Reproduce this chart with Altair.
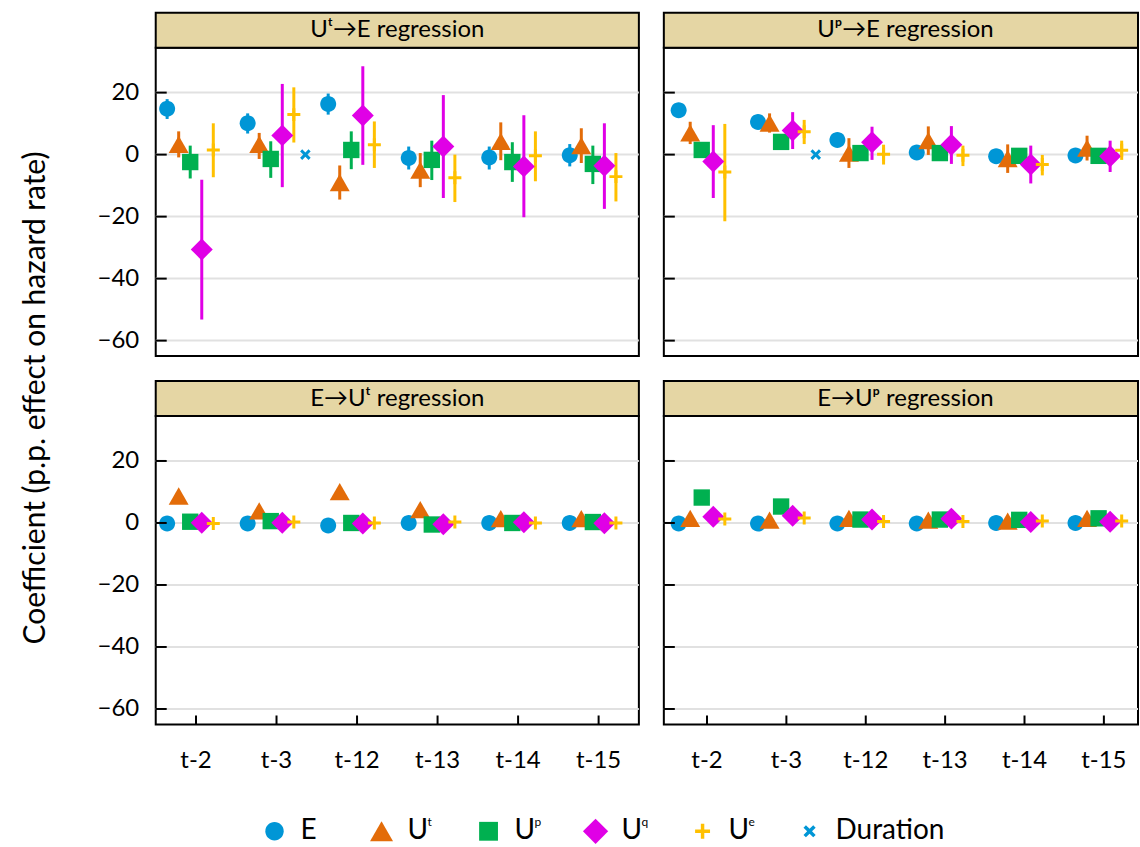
import math
import altair as alt
import pandas as pd

# ---------------- data ----------------
LAGS = ["t-2", "t-3", "t-12", "t-13", "t-14", "t-15"]
SERIES = ["E", "Ut", "Up", "Uq", "Ue", "Duration"]
COLORS = ["#0096D6", "#E36C09", "#00B050", "#E000E6", "#FFC000", "#0096D6"]
LEGEND_MAIN = ["E", "U", "U", "U", "U", "Duration"]
LEGEND_SUP = ["", "t", "p", "q", "e", ""]
PANEL_TITLES = ["Uᵗ→E regression", "Uᵖ→E regression", "E→Uᵗ regression", "E→Uᵖ regression"]
Y_TITLE = "Coefficient (p.p. effect on hazard rate)"
Y_TICKS = [-60, -40, -20, 0, 20]

# Panel 1: U^t -> E
UTE_COEF = {
    "E":  [14.8, 10.1, 16.3, -1.1, -0.9, -0.2],
    "Ut": [3.3, 3.3, -9.0, -5.0, 4.3, 2.9],
    "Up": [-2.4, -1.4, 1.5, -1.7, -2.4, -3.0],
    "Uq": [-30.6, 6.2, 12.6, 2.6, -3.8, -3.6],
    "Ue": [1.5, 12.9, 3.2, -7.5, -0.4, -7.1],
}
UTE_LO = {
    "E":  [11.5, 6.8, 12.9, -4.8, -4.8, -3.8],
    "Ut": [-0.9, -1.4, -14.5, -10.5, -1.8, -2.7],
    "Up": [-7.7, -7.5, -4.7, -8.2, -8.8, -9.5],
    "Uq": [-53.2, -10.5, -3.3, -14.0, -20.2, -17.5],
    "Ue": [-7.3, 3.9, -4.3, -15.3, -8.6, -15.1],
}
UTE_HI = {
    "E":  [17.9, 13.3, 19.7, 2.6, 2.6, 3.4],
    "Ut": [7.5, 7.0, -3.5, 0.5, 10.4, 8.5],
    "Up": [2.9, 4.3, 7.5, 4.5, 4.0, 2.9],
    "Uq": [-8.1, 22.8, 28.5, 19.2, 12.7, 10.1],
    "Ue": [10.1, 21.7, 10.7, 0.0, 7.5, 0.5],
}
UTE_DUR = [None, 0.0, None, None, None, None]

# Panel 2: U^p -> E
UPE_COEF = {
    "E":  [14.3, 10.5, 4.7, 0.7, -0.5, -0.3],
    "Ut": [7.0, 10.2, 0.5, 4.5, -1.3, 2.1],
    "Up": [1.5, 4.1, 0.5, 0.5, -0.4, -0.4],
    "Uq": [-2.2, 7.8, 4.0, 3.2, -3.2, -0.5],
    "Ue": [-5.6, 7.4, 0.1, -0.2, -3.2, 1.4],
}
UPE_LO = {
    "E":  [13.3, 9.5, 3.7, -0.3, -1.5, -1.3],
    "Ut": [3.4, 7.1, -4.3, -0.1, -5.9, -1.9],
    "Up": [0.5, 3.1, -0.5, -0.5, -1.4, -1.4],
    "Uq": [-14.0, 1.8, -1.7, -3.0, -9.3, -5.6],
    "Ue": [-21.5, 3.4, -3.2, -3.7, -6.7, -1.7],
}
UPE_HI = {
    "E":  [15.3, 11.5, 5.7, 1.7, 0.5, 0.7],
    "Ut": [10.6, 13.3, 5.3, 9.1, 3.3, 6.1],
    "Up": [2.5, 5.1, 1.5, 1.5, 0.6, 0.6],
    "Uq": [9.5, 13.7, 9.0, 9.2, 2.9, 4.5],
    "Ue": [9.9, 11.2, 3.2, 2.9, -0.1, 4.5],
}
UPE_DUR = [None, 0.0, None, None, None, None]

# Panel 3: E -> U^t
EUT_COEF = {
    "E":  [-0.2, -0.2, -0.8, 0.0, 0.0, 0.0],
    "Ut": [8.7, 3.9, 10.1, 4.3, 1.4, 1.4],
    "Up": [0.4, 0.6, 0.0, -0.5, 0.0, 0.3],
    "Uq": [0.1, 0.1, -0.2, -0.4, 0.2, -0.1],
    "Ue": [-0.2, 0.3, 0.0, 0.3, 0.0, 0.0],
}

# Panel 4: E -> U^p
EUP_COEF = {
    "E":  [-0.2, -0.2, -0.2, -0.2, 0.0, 0.0],
    "Ut": [1.5, 0.9, 1.5, 0.9, 0.6, 1.5],
    "Up": [8.2, 5.3, 1.1, 1.1, 1.0, 1.5],
    "Uq": [2.0, 2.3, 1.1, 1.4, 0.3, 0.4],
    "Ue": [1.3, 1.6, 0.5, 0.5, 0.6, 0.6],
}

# ---------------- styling ----------------
FONT = "Lato"
HEADER_FILL = "#E5D6A4"
GRID_COLOR = "#e1e1e1"
PANEL_W_LEFT = 484
PANEL_W_RIGHT = 475
PANEL_H = 309
HEADER_H = 35
COL_GAP = 25
ROW_GAP = 25 + HEADER_H


def plus_path(h, t):
    return f"M{-h},{-t}H{-t}V{-h}H{t}V{-t}H{h}V{t}H{t}V{h}H{-t}V{t}H{-h}Z"


def x_path(L, a):
    pts = [(-L, -a), (-a, -a), (-a, -L), (a, -L), (a, -a), (L, -a),
           (L, a), (a, a), (a, L), (-a, L), (-a, a), (-L, a)]
    c = math.sqrt(0.5)
    rot = [((x - y) * c, (x + y) * c) for x, y in pts]
    return "M" + "L".join(f"{x:.3f},{y:.3f}" for x, y in rot) + "Z"


SHAPES = [
    "M-0.8,0A0.8,0.8,0,1,1,0.8,0A0.8,0.8,0,1,1,-0.8,0Z",
    "M0,-0.866L1,0.866L-1,0.866Z",
    "M-0.82,-0.82H0.82V0.82H-0.82Z",
    "M0,-1.1L1.1,0L0,1.1L-1.1,0Z",
    plus_path(0.65, 0.15),
    x_path(0.6, 0.15),
]

COLOR = alt.Color("series:N", scale=alt.Scale(domain=SERIES, range=COLORS), legend=None)
SHAPE = alt.Shape("series:N", scale=alt.Scale(domain=SERIES, range=SHAPES), legend=None)


def panel_df(coef, lo, hi, dur):
    rows = []
    for s in SERIES[:-1]:
        for i, lag in enumerate(LAGS):
            rows.append({
                "lag": lag, "series": s, "value": coef[s][i],
                "lo": lo[s][i] if lo else None,
                "hi": hi[s][i] if hi else None,
            })
    if dur:
        for i, lag in enumerate(LAGS):
            if dur[i] is not None:
                rows.append({"lag": lag, "series": "Duration", "value": dur[i],
                             "lo": None, "hi": None})
    return pd.DataFrame(rows)


def make_panel(df, title, width, show_y, show_x, has_ci, right, with_ytitle=False):
    yscale = alt.Scale(domain=[-65, 34.5], nice=False, zero=False)
    if show_y:
        yaxis = alt.Axis(values=Y_TICKS, ticks=False, domain=False, grid=False,
                         labelPadding=17, labelFontSize=24, labelColor="black",
                         labelFont=FONT, title=None)
    else:
        yaxis = None
    if right:
        xscale = alt.Scale(domain=LAGS, paddingInner=0.14, paddingOuter=0.057, align=1)
    else:
        xscale = alt.Scale(domain=LAGS, paddingInner=0.14, paddingOuter=0.07)
    if show_x:
        xaxis = alt.Axis(ticks=False, domain=False, grid=False,
                         labelAngle=0, labelPadding=24, labelFontSize=24,
                         labelColor="black", labelFont=FONT, title=None)
    else:
        xaxis = None
    X = alt.X("lag:N", sort=LAGS, scale=xscale, axis=xaxis)
    XO = alt.XOffset("series:N", sort=SERIES,
                     scale=alt.Scale(domain=SERIES, paddingInner=0, paddingOuter=0))
    ticks_df = pd.DataFrame({"tick": Y_TICKS})
    layers = []
    # horizontal gridlines
    layers.append(
        alt.Chart(ticks_df).mark_rule(color=GRID_COLOR, strokeWidth=2)
        .encode(y=alt.Y("tick:Q", scale=yscale, axis=yaxis),
                x=alt.value(0), x2=alt.value(width))
    )
    base = alt.Chart(df)
    if has_ci:
        layers.append(
            base.transform_filter("isValid(datum.lo)")
            .mark_rule(strokeWidth=3)
            .encode(x=X, xOffset=XO,
                    y=alt.Y("lo:Q", scale=yscale, axis=yaxis),
                    y2="hi:Q", color=COLOR)
        )
    layers.append(
        base.mark_point(filled=True, opacity=1, size=400)
        .encode(x=X, xOffset=XO,
                y=alt.Y("value:Q", scale=yscale, axis=yaxis),
                color=COLOR, shape=SHAPE)
    )
    # inward y ticks
    layers.append(
        alt.Chart(ticks_df).mark_rule(color="black", strokeWidth=2)
        .encode(y=alt.Y("tick:Q", scale=yscale, axis=yaxis),
                x=alt.value(0), x2=alt.value(11))
    )
    if show_x:
        layers.append(
            alt.Chart(pd.DataFrame({"lag": LAGS}))
            .mark_rule(color="black", strokeWidth=2)
            .encode(x=X, y=alt.value(PANEL_H - 9), y2=alt.value(PANEL_H))
        )
    hdr = alt.Chart(pd.DataFrame({"t": [title]}))
    layers.append(
        hdr.mark_rect(fill=HEADER_FILL, stroke="black", strokeWidth=2)
        .encode(x=alt.value(0), x2=alt.value(width),
                y=alt.value(-HEADER_H), y2=alt.value(0))
    )
    layers.append(
        hdr.mark_text(fontSize=24, color="black", font=FONT)
        .encode(text="t:N", x=alt.value(PANEL_W_LEFT / 2),
                y=alt.value(-HEADER_H / 2))
    )
    if with_ytitle:
        layers.append(
            alt.Chart(pd.DataFrame({"t": [Y_TITLE]}))
            .mark_text(angle=270, fontSize=30, color="black", font=FONT)
            .encode(text="t:N", x=alt.value(-120), y=alt.value(351))
        )
    return alt.layer(*layers).properties(
        width=width, height=PANEL_H,
        view=alt.ViewBackground(stroke="black", strokeWidth=2, fill="white"),
    )


p1 = make_panel(panel_df(UTE_COEF, UTE_LO, UTE_HI, UTE_DUR), PANEL_TITLES[0],
                PANEL_W_LEFT, True, False, True, False, with_ytitle=True)
p2 = make_panel(panel_df(UPE_COEF, UPE_LO, UPE_HI, UPE_DUR), PANEL_TITLES[1],
                PANEL_W_RIGHT, False, False, True, True)
p3 = make_panel(panel_df(EUT_COEF, None, None, None), PANEL_TITLES[2],
                PANEL_W_LEFT, True, True, False, False)
p4 = make_panel(panel_df(EUP_COEF, None, None, None), PANEL_TITLES[3],
                PANEL_W_RIGHT, False, True, False, True)

leg_df = pd.DataFrame({"series": SERIES, "main": LEGEND_MAIN, "sup": LEGEND_SUP})
LX = alt.X("series:N", sort=SERIES,
           scale=alt.Scale(type="point", domain=SERIES, range=[119, 655], padding=0),
           axis=None)
LEG_Y = 47
leg_pts = alt.Chart(leg_df).mark_point(filled=True, opacity=1, size=530).encode(
    x=LX, y=alt.value(LEG_Y), color=COLOR, shape=SHAPE)
leg_txt = alt.Chart(leg_df).mark_text(align="left", dx=26, fontSize=28,
                                      color="black", font=FONT).encode(
    x=LX, y=alt.value(LEG_Y), text="main:N")
leg_sup = alt.Chart(leg_df).mark_text(align="left", dx=46, dy=-9, fontSize=12,
                                      color="black", font=FONT).encode(
    x=LX, y=alt.value(LEG_Y), text="sup:N")
legend = alt.layer(leg_pts, leg_txt, leg_sup).properties(
    width=PANEL_W_LEFT, height=30, view=alt.ViewBackground(stroke="transparent"))

chart = (
    alt.concat(p1, p2, p3, p4, legend, columns=2,
               spacing={"row": ROW_GAP, "column": COL_GAP}, bounds="flush")
    .properties(padding={"left": 20, "top": 10, "right": 0, "bottom": 0})
    .configure(font=FONT)
)

chart.save("out.html", embed_options={"renderer": "svg", "actions": False})
